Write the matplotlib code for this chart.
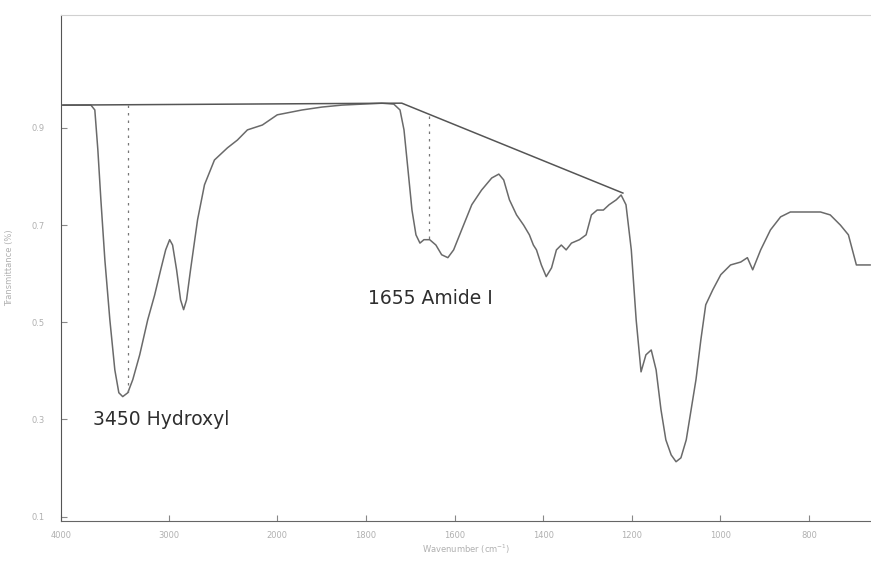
import numpy as np
import matplotlib.pyplot as plt

# FTIR spectrum
wavenumber = [3995, 3723, 3687, 3659, 3631, 3594, 3548, 3502, 3465, 3429,
              3382, 3336, 3272, 3198, 3134, 3078, 3032, 2995, 2968, 2931,
              2894, 2866, 2839, 2802, 2737, 2673, 2581, 2461, 2369, 2276,
              2138, 2000, 1944, 1899, 1854, 1809, 1764, 1737, 1723, 1714,
              1705, 1696, 1687, 1678, 1669, 1656, 1642, 1629, 1615, 1602,
              1584, 1561, 1539, 1516, 1500, 1489, 1476, 1460, 1444, 1431,
              1422, 1415, 1404, 1393, 1381, 1370, 1359, 1348, 1336, 1318,
              1303, 1291, 1278, 1264, 1251, 1235, 1224, 1213, 1201, 1190,
              1179, 1168, 1156, 1145, 1134, 1123, 1111, 1100, 1089, 1077,
              1066, 1055, 1044, 1033, 1017, 999, 977, 954, 939, 927,
              909, 887, 864, 842, 819, 774, 752, 729, 711, 702,
              693, 662]
transmittance = [0.947, 0.947, 0.937, 0.855, 0.752, 0.628, 0.505, 0.402, 0.355, 0.347,
                 0.355, 0.382, 0.433, 0.505, 0.556, 0.608, 0.649, 0.670, 0.659, 0.608,
                 0.546, 0.526, 0.546, 0.608, 0.711, 0.783, 0.834, 0.859, 0.875, 0.896,
                 0.906, 0.927, 0.937, 0.943, 0.947, 0.949, 0.951, 0.949, 0.937, 0.896,
                 0.814, 0.731, 0.680, 0.663, 0.670, 0.670, 0.659, 0.639, 0.633, 0.649,
                 0.690, 0.742, 0.772, 0.797, 0.805, 0.793, 0.752, 0.721, 0.700, 0.680,
                 0.659, 0.649, 0.618, 0.594, 0.612, 0.649, 0.659, 0.649, 0.663, 0.670,
                 0.680, 0.721, 0.731, 0.731, 0.742, 0.752, 0.762, 0.742, 0.649, 0.505,
                 0.398, 0.433, 0.443, 0.402, 0.320, 0.258, 0.227, 0.213, 0.221, 0.258,
                 0.320, 0.382, 0.464, 0.536, 0.567, 0.598, 0.618, 0.624, 0.633, 0.608,
                 0.649, 0.690, 0.717, 0.727, 0.727, 0.727, 0.721, 0.700, 0.680, 0.649,
                 0.618, 0.618]

# baseline construction lines
baseline_w = [3980, 1719, 1220]
baseline_t = [0.947, 0.951, 0.766]

peak_w = [3382, 1658]
peak_top = [0.947, 0.925]
peak_bottom = [0.351, 0.670]
peak_labels = ["3450 Hydroxyl", "1655 Amide I"]
label_w = [3705, 1795]
label_t = [0.300, 0.548]

xticks = [4000, 3000, 2000, 1800, 1600, 1400, 1200, 1000, 800]
yticks = [0.9, 0.7, 0.5, 0.3, 0.1]


# axis is expanded below 2000 cm-1
def fwd(w):
    w = np.asarray(w, dtype=float)
    return np.where(w <= 2000, w * 0.4445, 889 + (w - 2000) * 0.1085)


def inv(u):
    u = np.asarray(u, dtype=float)
    return np.where(u <= 889, u / 0.4445, 2000 + (u - 889) / 0.1085)


fig = plt.figure(figsize=(8.71, 5.61), dpi=100)
ax = fig.add_axes([0.070, 0.0713, 0.93, 0.902])
ax.set_xscale('function', functions=(fwd, inv))
ax.set_xlim(4000, 660)
ax.set_ylim(0.091, 1.1325)

ax.plot(wavenumber, transmittance, color='#6a6a6a', lw=1.1)
ax.plot(baseline_w, baseline_t, color='#555555', lw=1.1)
for w, t0, t1 in zip(peak_w, peak_top, peak_bottom):
    ax.plot([w, w], [t0, t1], color='#777777', lw=0.9, ls=(0, (2, 4)))
for txt, w, t in zip(peak_labels, label_w, label_t):
    ax.text(w, t, txt, fontsize=13.5, color='#2e2e2e', family='DejaVu Sans',
            va='center', ha='left')

ax.set_xticks(xticks)
ax.set_xticklabels([str(x) for x in xticks])
ax.set_yticks(yticks)
ax.tick_params(direction='in', length=4, width=0.8, colors='#888888',
               labelsize=6, labelcolor='#b0b0b0')
ax.tick_params(axis='x', pad=7)
ax.tick_params(axis='y', pad=12)
ax.set_xlabel("Wavenumber (cm$^{-1}$)", fontsize=6, color='#b0b0b0', labelpad=2)
ax.set_ylabel("Transmittance (%)", fontsize=6, color='#b0b0b0', labelpad=12)

ax.spines['right'].set_visible(False)
ax.spines['top'].set_color('#d0d0d0')
ax.spines['top'].set_linewidth(0.8)
ax.spines['left'].set_color('#555555')
ax.spines['bottom'].set_color('#666666')

fig.savefig('out.png', dpi=100)
